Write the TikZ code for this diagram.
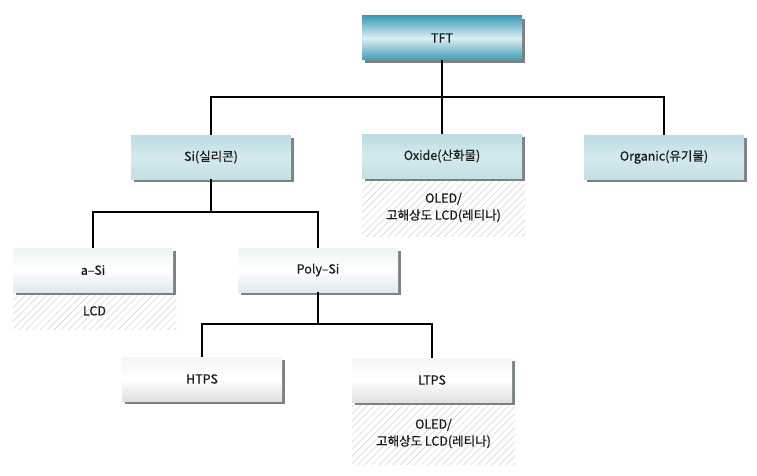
\documentclass[tikz,border=0pt]{standalone}
\usepackage{fontspec}
\setmainfont{Noto Sans CJK KR}[UprightFeatures={FakeBold=0.6}]
\usetikzlibrary{shadows,patterns.meta,backgrounds}

\definecolor{tftedge}{HTML}{3F9CB6}
\definecolor{tftmid}{HTML}{DCEFF2}
\definecolor{mattop}{HTML}{BCDBE2}
\definecolor{matmid}{HTML}{D5EAEE}
\definecolor{matbot}{HTML}{C3DFE5}
\definecolor{sitop}{HTML}{EEF5F7}
\definecolor{sibot}{HTML}{DCEAEE}
\definecolor{proctop}{HTML}{F6F6F6}
\definecolor{procbot}{HTML}{E0E0E0}
\definecolor{shadowgrey}{HTML}{7A8285}
\definecolor{ink}{HTML}{1A1A1A}

\tikzset{
  box/.style={rectangle, minimum width=160pt, minimum height=44pt, inner sep=0pt,
    font=\fontsize{12.5}{14}\selectfont, text=ink,
    drop shadow={shadow xshift=3pt, shadow yshift=-3pt, fill=shadowgrey, opacity=1}},
  rootbox/.style={box, top color=tftedge, bottom color=tftedge, middle color=tftmid},
  matbox/.style={box, top color=mattop, bottom color=matbot, middle color=matmid},
  sibox/.style={box, top color=sitop, bottom color=sibot, middle color=white},
  procbox/.style={box, top color=proctop, bottom color=procbot, middle color=white},
  usebox/.style={rectangle, minimum width=163pt, inner sep=0pt, anchor=north,
    align=center, font=\fontsize{12.5}{17}\selectfont, text=ink,
    pattern={Lines[angle=45, distance=5pt, line width=0.5pt]}, pattern color=black!18},
  link/.style={line width=2pt}
}

\begin{document}
\begin{tikzpicture}[x=1pt, y=-1pt]
  \useasboundingbox (0,0) rectangle (757,476);

  % boxes
  \node[rootbox] (tft) at (442,38) {TFT};
  \node[matbox] (si) at (211,157) {Si(실리콘)};
  \node[matbox] (oxide) at (442,156) {Oxide(산화물)};
  \node[matbox] (organic) at (664,157) {Organic(유기물)};
  \node[sibox] (asi) at (93,270) {a–Si};
  \node[sibox] (polysi) at (318,270) {Poly–Si};
  \node[procbox] (htps) at (202,379) {HTPS};
  \node[procbox] (ltps) at (432,380) {LTPS};

  % uses
  \begin{scope}[on background layer]
    \node[usebox, minimum height=58pt] (oxideuse) at ([xshift=1.5pt]oxide.south) {OLED/\\고해상도 LCD(레티나)};
    \node[usebox, minimum height=37pt] (asiuse) at ([xshift=1.5pt]asi.south) {LCD};
    \node[usebox, minimum height=62pt] (ltpsuse) at ([xshift=1.5pt]ltps.south) {OLED/\\고해상도 LCD(레티나)};
  \end{scope}

  % tree
  \coordinate (top) at ([yshift=-37pt]tft.south);
  \coordinate (mid) at ([yshift=-33pt]si.south);
  \coordinate (low) at ([yshift=-32pt]polysi.south);
  \draw[link] (tft.south) -- (top);
  \draw[link] (top) -| (si.north);
  \draw[link] (top) -| (organic.north);
  \draw[link] (top) -- (oxide.north);
  \draw[link] (si.south) -- (mid);
  \draw[link] (mid) -| (asi.north);
  \draw[link] (mid) -| (polysi.north);
  \draw[link] (polysi.south) -- (low);
  \draw[link] (low) -| (htps.north);
  \draw[link] (low) -| (ltps.north);
\end{tikzpicture}
\end{document}
